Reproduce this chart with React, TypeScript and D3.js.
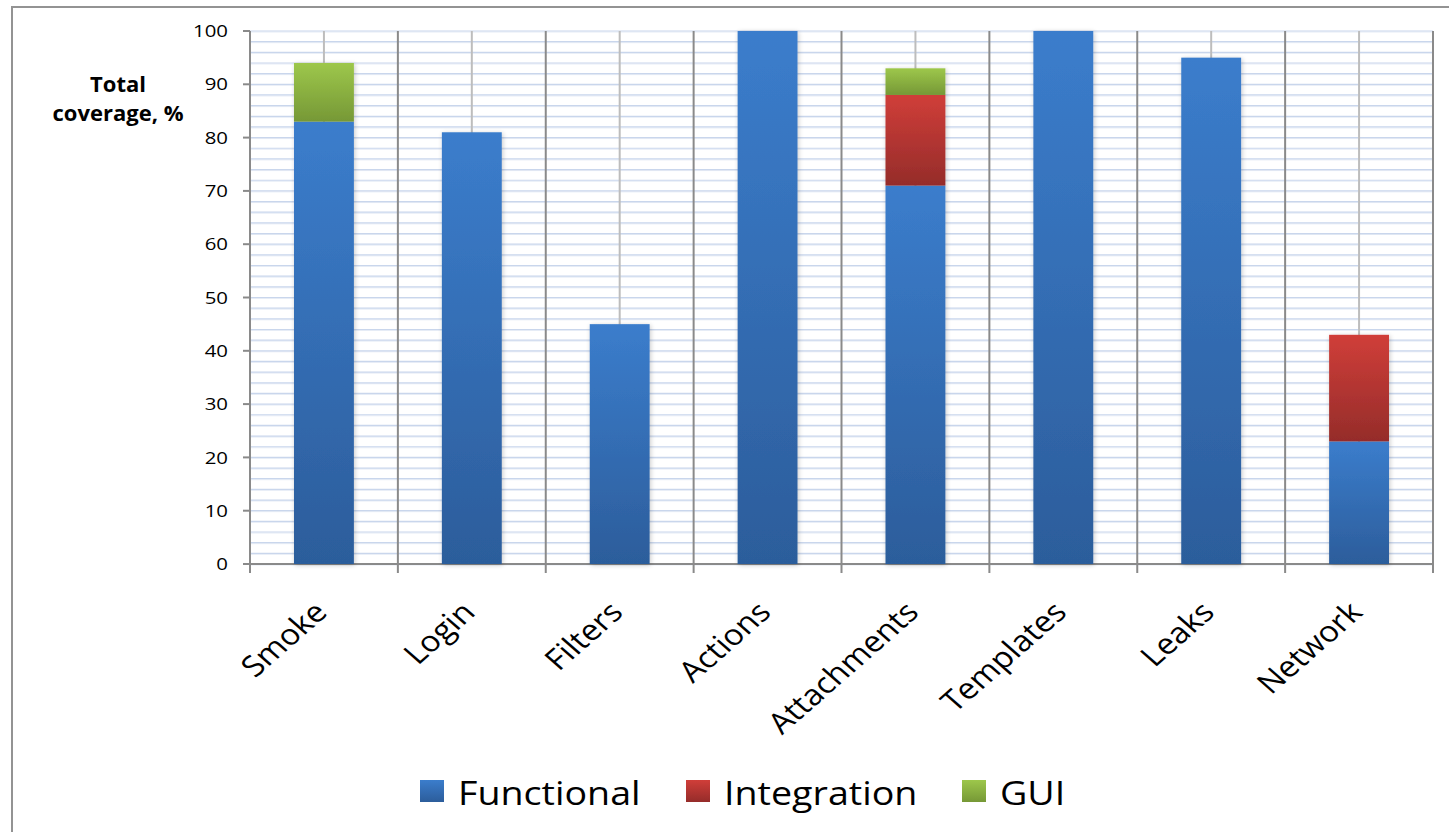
import React from "react";
import * as d3 from "d3";

// Test suites and their coverage split by test type (percent)
const categories = ["Smoke", "Login", "Filters", "Actions", "Attachments", "Templates", "Leaks", "Network"];
const functional = [83, 81, 45, 100, 71, 100, 95, 23];
const integration = [0, 0, 0, 0, 17, 0, 0, 20];
const gui = [11, 0, 0, 0, 5, 0, 0, 0];
const seriesNames = ["Functional", "Integration", "GUI"];
const yTicks = [0, 10, 20, 30, 40, 50, 60, 70, 80, 90, 100];
const axisTitle = ["Total", "coverage, %"];

const W = 1449;
const H = 832;
const plot = { left: 250, right: 1433, top: 31, bottom: 564 };

const palette = [
  { id: "gFunc", top: "#3b7dcc", bottom: "#2c5d9b" },
  { id: "gInt", top: "#d03e39", bottom: "#952c2a" },
  { id: "gGui", top: "#9dc74b", bottom: "#769836" },
];

const FONT = "'Open Sans', 'Liberation Sans', sans-serif";

export default function App() {
  const x = d3.scaleBand<string>().domain(categories).range([plot.left, plot.right]).padding(0);
  const y = d3.scaleLinear().domain([0, 100]).range([plot.bottom, plot.top]);
  const barW = x.bandwidth() * 0.405;

  const rows = categories.map((c, i) => ({
    cat: c,
    Functional: functional[i],
    Integration: integration[i],
    GUI: gui[i],
  }));
  const stacked = d3.stack<any>().keys(seriesNames)(rows);

  const minorTicks = d3.range(0, 101, 2);
  const boundaries = categories.map((c) => x(c)!).concat([plot.right]);

  return (
    <svg
      width={W}
      height={H}
      style={{ position: "absolute", left: 0, top: 0, background: "#fff" }}
      fontFamily={FONT}
    >
      <defs>
        {palette.map((p) => (
          <linearGradient key={p.id} id={p.id} x1="0" y1="0" x2="0" y2="1">
            <stop offset="0" stopColor={p.top} />
            <stop offset="1" stopColor={p.bottom} />
          </linearGradient>
        ))}
        <filter id="barShadow" x="-20%" y="-5%" width="140%" height="110%">
          <feGaussianBlur in="SourceAlpha" stdDeviation="2.5" />
          <feOffset dx="1" dy="1" result="b" />
          <feComponentTransfer>
            <feFuncA type="linear" slope="0.22" />
          </feComponentTransfer>
          <feMerge>
            <feMergeNode />
            <feMergeNode in="SourceGraphic" />
          </feMerge>
        </filter>
      </defs>

      {/* chart frame */}
      <rect x={12} y={7} width={1500} height={900} fill="none" stroke="#939393" strokeWidth={2} />

      {/* horizontal gridlines every 2% */}
      {minorTicks.map((t) => (
        <g key={"h" + t}>
          <line x1={plot.left} x2={plot.right} y1={y(t) + 1} y2={y(t) + 1} stroke="#e6ecf6" strokeWidth={1} />
          <line x1={plot.left} x2={plot.right} y1={y(t)} y2={y(t)} stroke="#c9d6ec" strokeWidth={1.2} />
        </g>
      ))}

      {/* light center lines per category */}
      {categories.map((c) => (
        <line
          key={"c" + c}
          x1={x(c)! + x.bandwidth() / 2}
          x2={x(c)! + x.bandwidth() / 2}
          y1={plot.top}
          y2={plot.bottom}
          stroke="#bdbdbd"
          strokeWidth={2}
        />
      ))}

      {/* category boundary lines with ticks below the axis */}
      {boundaries.map((bx, i) => (
        <line
          key={"b" + i}
          x1={bx}
          x2={bx}
          y1={plot.top}
          y2={plot.bottom + 9}
          stroke="#8a8a8a"
          strokeWidth={2}
        />
      ))}

      {/* y axis */}
      <line x1={plot.left} x2={plot.left} y1={plot.top} y2={plot.bottom} stroke="#8a8a8a" strokeWidth={2} />
      {yTicks.map((t) => (
        <g key={"y" + t}>
          <line x1={plot.left - 7} x2={plot.left} y1={y(t)} y2={y(t)} stroke="#8a8a8a" strokeWidth={2} />
          <text
            transform={`translate(${plot.left - 22},${y(t)}) scale(1.2,1)`}
            textAnchor="end"
            dy="0.36em"
            fontSize={17}
            fill="#000"
          >
            {t}
          </text>
        </g>
      ))}
      {/* x axis */}
      <line x1={plot.left} x2={plot.right} y1={plot.bottom} y2={plot.bottom} stroke="#8a8a8a" strokeWidth={2} />

      {/* stacked bars */}
      <g filter="url(#barShadow)">
        {stacked.map((layer, si) =>
          layer.map((d, i) => {
            const h = y(d[0]) - y(d[1]);
            if (h <= 0) return null;
            return (
              <rect
                key={si + "-" + i}
                x={x(categories[i])! + (x.bandwidth() - barW) / 2}
                y={y(d[1])}
                width={barW}
                height={h}
                fill={`url(#${palette[si].id})`}
              />
            );
          })
        )}
      </g>

      {/* category labels */}
      {categories.map((c) => (
        <text
          key={"l" + c}
          transform={`translate(${x(c)! + x.bandwidth() / 2 + 5},${plot.bottom + 50}) scale(1.14,1) rotate(-45)`}
          textAnchor="end"
          fontSize={29}
          fill="#000"
        >
          {c}
        </text>
      ))}

      {/* axis title */}
      <text x={118} y={92} textAnchor="middle" fontWeight="bold" fontSize={22} fill="#000">
        {axisTitle[0]}
      </text>
      <text x={118} y={121} textAnchor="middle" fontWeight="bold" fontSize={22} fill="#000">
        {axisTitle[1]}
      </text>

      {/* legend */}
      {seriesNames.map((s, i) => {
        const lx = [420, 686, 962][i];
        return (
          <g key={"lg" + s}>
            <rect x={lx} y={780} width={24} height={22} fill={`url(#${palette[i].id})`} />
            <text
              transform={`translate(${lx + 38},${805}) scale(1.14,1)`}
              fontSize={33}
              fill="#000"
            >
              {s}
            </text>
          </g>
        );
      })}
    </svg>
  );
}
